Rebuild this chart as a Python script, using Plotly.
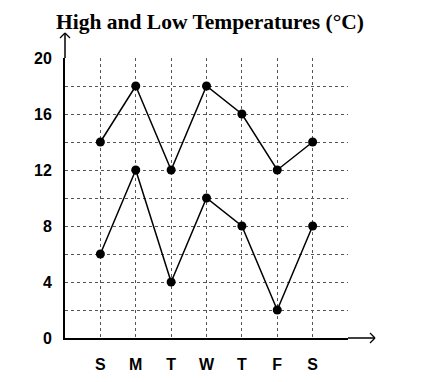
import plotly.graph_objects as go

days = ["S", "M", "T", "W", "T", "F", "S"]
high = [14, 18, 12, 18, 16, 12, 14]
low = [6, 12, 4, 10, 8, 2, 8]
y_ticks = [0, 4, 8, 12, 16, 20]
title_text = "High and Low Temperatures (°C)"

xpos = list(range(len(days)))

fig = go.Figure()
for series in (high, low):
    fig.add_trace(go.Scatter(
        x=xpos, y=series, mode="lines+markers",
        line=dict(color="black", width=1.5),
        marker=dict(color="black", size=9),
        showlegend=False, cliponaxis=False,
    ))

xtickvals = list(range(-1, len(days) + 1))
xticktext = [""] + ["<b>" + d + "</b>" for d in days] + [""]
ytickvals = list(range(0, 21, 2))
yticktext = ["<b>" + str(v) + "</b>" if v in y_ticks else "" for v in ytickvals]

font_lab = dict(family="Liberation Sans, Arial", size=16, color="black")

W, H = 415, 374
L, T, R, B = 57, 50, 75, 44
fig.update_layout(
    width=W, height=H,
    margin=dict(l=L, r=R, t=T, b=B, autoexpand=False),
    paper_bgcolor="white", plot_bgcolor="white",
    title=dict(text="<b>" + title_text + "</b>", x=202 / W, xref="container", xanchor="center",
               y=1 - 13 / H, yanchor="middle",
               font=dict(family="Liberation Serif, Times New Roman", size=21.5, color="black")),
    xaxis=dict(range=[-1, 7], tickvals=xtickvals, ticktext=xticktext,
               showgrid=True, gridcolor="#555", griddash="dot", gridwidth=1,
               zeroline=False, showline=True, linecolor="black", linewidth=2,
               ticks="", ticklabelstandoff=11, tickfont=font_lab,
               fixedrange=True),
    yaxis=dict(range=[0, 20], tickvals=ytickvals, ticktext=yticktext,
               showgrid=True, gridcolor="#555", griddash="dot", gridwidth=1,
               zeroline=False, showline=True, linecolor="black", linewidth=2,
               ticks="", ticklabelstandoff=8, tickfont=font_lab,
               fixedrange=True),
)

# axis extensions with open chevron arrowheads
px_w = W - L - R
px_h = H - T - B
ext_x = (367 - L) / px_w
ext_y = (T + px_h - 25) / px_h
line = dict(color="black", width=1.3)
fig.add_shape(type="line", xref="paper", yref="paper", x0=1, x1=ext_x, y0=0, y1=0, line=dict(color="black", width=1.5))
fig.add_shape(type="line", xref="paper", yref="paper", x0=0, x1=0, y0=1, y1=ext_y, line=dict(color="black", width=1.5))
for dy in (5, -5):
    fig.add_shape(type="line", xref="paper", yref="paper", xsizemode="pixel", ysizemode="pixel",
                  xanchor=ext_x, yanchor=0, x0=0, x1=-5, y0=0, y1=dy, line=line)
for dx in (5, -5):
    fig.add_shape(type="line", xref="paper", yref="paper", xsizemode="pixel", ysizemode="pixel",
                  xanchor=0, yanchor=ext_y, x0=0, x1=dx, y0=0, y1=-5, line=line)

fig.write_html("out.html")
